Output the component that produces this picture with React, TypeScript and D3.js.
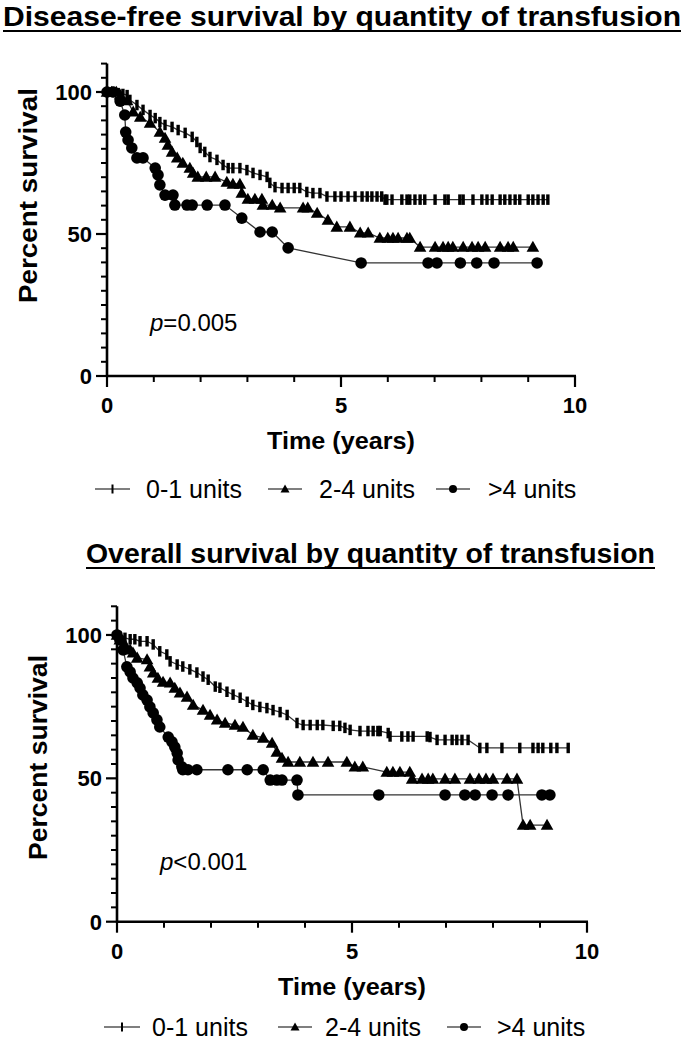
import React from "react";
import * as d3 from "d3";

// ---------- data ----------
const xTickValues = [0, 5, 10];
const yTickValues = [0, 50, 100];
const legendLabels = ["0-1 units", "2-4 units", ">4 units"];
const titles = ["Disease-free survival by quantity of transfusion", "Overall survival by quantity of transfusion"];
const pLabels = ["=0.005", "<0.001"];

// Disease-free survival [years, percent]
const dfs01: [number, number][] = [
  [0, 100], [0.13, 100], [0.24, 99.6], [0.34, 99.3], [0.43, 98.9], [0.49, 97.2], [0.64, 95.4], [0.77, 93.7],
  [0.92, 91.9], [1.03, 90.8], [1.13, 89.4], [1.24, 88.4], [1.39, 87.7], [1.52, 86.6], [1.67, 85.6], [1.82, 84.2],
  [1.92, 82.4], [1.99, 80.3], [2.09, 78.9], [2.2, 77.1], [2.35, 76.1], [2.48, 74.3], [2.59, 73.2], [2.69, 73.2],
  [2.84, 73.2], [2.99, 72.5], [3.12, 71.5], [3.27, 70.8], [3.42, 70.1], [3.48, 68], [3.59, 66.5], [3.74, 66.2],
  [3.87, 66.2], [4.0, 66.2], [4.12, 66.2], [4.27, 64.8], [4.4, 64.4], [4.55, 64.4], [4.7, 63.2], [4.87, 63.2],
  [5.0, 63.2], [5.15, 63.2], [5.3, 63.2], [5.45, 63.2], [5.56, 63.2], [5.66, 63.2], [5.77, 63.2], [5.87, 63.2],
  [5.94, 62.1], [5.98, 62.1], [6.09, 62.1], [6.3, 62.1], [6.41, 62.1], [6.47, 62.1], [6.58, 62.1], [6.69, 62.1],
  [6.79, 62.1], [7.01, 62.1], [7.22, 62.1], [7.29, 62.1], [7.54, 62.1], [7.61, 62.1], [7.82, 62.1], [8.01, 62.1],
  [8.12, 62.1], [8.23, 62.1], [8.4, 62.1], [8.5, 62.1], [8.61, 62.1], [8.72, 62.1], [8.82, 62.1], [9.0, 62.1],
  [9.1, 62.1], [9.21, 62.1], [9.32, 62.1], [9.42, 62.1],
];
const dfs24: [number, number][] = [
  [0, 100], [0.1, 100], [0.2, 100], [0.28, 99], [0.43, 97], [0.56, 93], [0.71, 91.2], [0.92, 89.1], [1.13, 85.9],
  [1.24, 83.8], [1.3, 81.3], [1.39, 78.9], [1.5, 76.8], [1.62, 75], [1.77, 73.2], [1.84, 71.5], [1.94, 70.1],
  [2.12, 70.1], [2.31, 70.1], [2.56, 68.3], [2.69, 67.6], [2.84, 67.6], [2.88, 64.4], [3.01, 62.3], [3.16, 62.3],
  [3.31, 62.3], [3.33, 60.2], [3.53, 60.2], [3.7, 59.2], [4.19, 59.2], [4.29, 59.2], [4.49, 57.4], [4.72, 54.9],
  [4.91, 52.5], [5.19, 52.5], [5.41, 50.4], [5.58, 50.4], [5.83, 48.6], [6.0, 48.6], [6.11, 48.6], [6.22, 48.6],
  [6.41, 48.6], [6.47, 48.6], [6.69, 45.4], [7.01, 45.4], [7.18, 45.4], [7.29, 45.4], [7.39, 45.4], [7.61, 45.4],
  [7.8, 45.4], [7.93, 45.4], [8.08, 45.4], [8.4, 45.4], [8.57, 45.4], [8.68, 45.4], [9.1, 45.4],
];
const dfs4: [number, number][] = [
  [0, 100], [0.13, 100], [0.28, 96.8], [0.38, 91.9], [0.4, 85.9], [0.45, 83.1], [0.53, 80.3], [0.64, 76.8],
  [0.77, 76.8], [1.03, 73.2], [1.09, 70.8], [1.13, 67.3], [1.24, 63.7], [1.41, 63.7], [1.45, 60.2], [1.71, 60.2],
  [1.82, 60.2], [2.14, 60.2], [2.52, 60.2], [2.88, 55.6], [3.27, 50.7], [3.53, 50.7], [3.87, 45.1], [5.43, 39.8],
  [6.86, 39.8], [7.05, 39.8], [7.55, 39.8], [7.9, 39.8], [8.27, 39.8], [9.19, 39.8],
];

// Overall survival [years, percent]
const os01: [number, number][] = [
  [0, 100], [0.06, 99.6], [0.17, 99], [0.28, 98.5], [0.38, 98.5], [0.49, 97.8], [0.64, 97.8], [0.77, 96.7],
  [0.91, 94.3], [1.06, 93.2], [1.13, 90.8], [1.28, 89.7], [1.4, 89.0], [1.55, 88.0], [1.7, 86.9], [1.83, 85.5],
  [1.94, 84.4], [2.09, 82.0], [2.19, 81.6], [2.34, 80.2], [2.47, 79.2], [2.62, 78.1], [2.77, 76.7], [2.89, 75.6],
  [3.04, 74.9], [3.19, 74.5], [3.32, 73.8], [3.47, 73.1], [3.62, 72.1], [3.83, 69.3], [3.96, 68.6], [4.11, 68.6],
  [4.26, 68.6], [4.38, 68.6], [4.6, 68.3], [4.74, 68.3], [4.85, 67.6], [4.96, 66.9], [5.17, 66.5], [5.34, 66.5],
  [5.45, 66.5], [5.55, 66.5], [5.6, 66.5], [5.77, 65.8], [5.81, 64.6], [6.06, 64.6], [6.19, 64.6], [6.3, 64.6],
  [6.6, 64.6], [6.66, 64.4], [6.81, 63.4], [6.98, 63.4], [7.13, 63.4], [7.23, 63.4], [7.34, 63.4], [7.47, 63.4],
  [7.72, 60.6], [7.87, 60.6], [8.19, 60.6], [8.57, 60.6], [8.85, 60.6], [8.96, 60.6], [9.06, 60.6], [9.23, 60.6],
  [9.36, 60.6], [9.6, 60.6],
];
const os24: [number, number][] = [
  [0, 100], [0.06, 98.3], [0.17, 96.6], [0.28, 94.8], [0.34, 93.8], [0.43, 92], [0.64, 91.4], [0.7, 88.9],
  [0.77, 86.8], [0.87, 85], [0.98, 83.6], [1.13, 83.3], [1.23, 81.5], [1.34, 79.8], [1.49, 78.4], [1.62, 75.6],
  [1.83, 73.8], [1.98, 72.1], [2.13, 70.4], [2.3, 69.3], [2.51, 68.6], [2.68, 67.9], [2.89, 65.1], [3.11, 64.1],
  [3.3, 62.3], [3.4, 59.2], [3.51, 57.1], [3.64, 55.7], [3.89, 55.7], [4.17, 55.7], [4.49, 55.7], [4.89, 55.7],
  [5.06, 54], [5.23, 54], [5.74, 52.2], [5.87, 52.2], [6.02, 52.2], [6.23, 52.2], [6.28, 49.8], [6.49, 49.8],
  [6.62, 49.8], [6.72, 49.8], [6.98, 49.8], [7.19, 49.8], [7.51, 49.8], [7.7, 49.8], [7.85, 49.8], [8.0, 49.8],
  [8.3, 49.8], [8.51, 49.8], [8.64, 33.7], [8.79, 33.7], [9.15, 33.7],
];
const os4: [number, number][] = [
  [0, 100], [0.06, 98.3], [0.13, 94.8], [0.21, 88.9], [0.28, 87.1], [0.34, 85], [0.43, 83.3], [0.49, 81.5],
  [0.55, 79.1], [0.64, 77.3], [0.7, 74.9], [0.77, 72.8], [0.85, 70.4], [0.91, 67.9], [1.09, 64.4], [1.17, 62.7],
  [1.23, 60.9], [1.28, 58.8], [1.3, 56.4], [1.38, 54], [1.4, 53], [1.51, 53], [1.7, 53], [2.36, 53], [2.77, 53],
  [3.11, 53], [3.26, 49.4], [3.4, 49.4], [3.51, 49.4], [3.83, 49.4], [3.85, 44.2], [5.57, 44.2], [6.98, 44.2],
  [7.4, 44.2], [7.62, 44.2], [7.98, 44.2], [8.32, 44.2], [9.04, 44.2], [9.21, 44.2],
];

type Pt = [number, number];

function Marker({ kind, x, y, small }: { kind: number; x: number; y: number; small?: boolean }) {
  if (kind === 0) {
    const w = small ? 2 : 3.4;
    const h = small ? 9 : 10.5;
    return <rect x={x - w / 2} y={y - h / 2} width={w} height={h} fill="#000" />;
  }
  if (kind === 1) {
    const s = small ? 4.5 : 6.3;
    return <path d={`M${x},${y - s}L${x + s},${y + s * 0.75}L${x - s},${y + s * 0.75}Z`} fill="#000" />;
  }
  return <circle cx={x} cy={y} r={small ? 4 : 5.8} fill="#000" />;
}

function Panel(props: {
  series: Pt[][];
  x0: number; x1: number; yBottom: number; yTop: number;
  title: string; titleX: number; titleW: number; titleY: number;
  yLabelX: number; yLabelY: number; yLabelLen: number;
  pText: string; pX: number; pY: number;
  legendY: number; legendLines: number[][]; legendText: number[];
}) {
  const { series, x0, x1, yBottom, yTop } = props;
  const x = d3.scaleLinear().domain([0, 10]).range([x0, x1]);
  const y = d3.scaleLinear().domain([0, 110]).range([yBottom, yTop]);
  const line = d3.line<Pt>().x((d) => x(d[0])).y((d) => y(d[1])).curve(d3.curveLinear);
  const minorX = d3.range(0, 11, 1).filter((v) => !xTickValues.includes(v));
  const minorY = d3.range(0, 111, 5).filter((v) => !yTickValues.includes(v));
  const font = "'Liberation Sans', Arial, sans-serif";
  return (
    <g fontFamily={font}>
      <text x={props.titleX} y={props.titleY} fontSize={28} fontWeight="bold" textLength={props.titleW} lengthAdjust="spacingAndGlyphs">{props.title}</text>
      <line x1={props.titleX} x2={props.titleX + props.titleW} y1={props.titleY + 5} y2={props.titleY + 5} stroke="#000" strokeWidth={2} />
      {/* y axis */}
      <line x1={x0} x2={x0} y1={yBottom + 1} y2={yTop} stroke="#000" strokeWidth={2.6} />
      {minorY.map((v) => (
        <line key={"my" + v} x1={x0 - 6} x2={x0} y1={y(v)} y2={y(v)} stroke="#000" strokeWidth={2} />
      ))}
      {yTickValues.map((v) => (
        <g key={"ty" + v}>
          <line x1={x0 - 11} x2={x0} y1={y(v)} y2={y(v)} stroke="#000" strokeWidth={2.2} />
          <text x={x0 - 15} y={y(v)} dy="0.36em" textAnchor="end" fontSize={22} fontWeight="bold">{v}</text>
        </g>
      ))}
      {/* x axis */}
      <line x1={x0 - 1} x2={x1 + 1} y1={yBottom} y2={yBottom} stroke="#000" strokeWidth={2.6} />
      {minorX.map((v) => (
        <line key={"mx" + v} x1={x(v)} x2={x(v)} y1={yBottom} y2={yBottom + 6} stroke="#000" strokeWidth={2} />
      ))}
      {xTickValues.map((v) => (
        <g key={"tx" + v}>
          <line x1={x(v)} x2={x(v)} y1={yBottom} y2={yBottom + 11} stroke="#000" strokeWidth={2.2} />
          <text x={x(v)} y={yBottom + 37} textAnchor="middle" fontSize={22} fontWeight="bold">{v}</text>
        </g>
      ))}
      <text x={(x0 + x1) / 2 - 74} y={yBottom + 73} fontSize={24} fontWeight="bold" textLength={148} lengthAdjust="spacingAndGlyphs">Time (years)</text>
      <text transform={`translate(${props.yLabelX},${props.yLabelY + props.yLabelLen}) rotate(-90)`} fontSize={26} fontWeight="bold" textLength={props.yLabelLen} lengthAdjust="spacingAndGlyphs">Percent survival</text>
      <text x={props.pX} y={props.pY} fontSize={24}>
        <tspan fontStyle="italic">p</tspan>{props.pText}
      </text>
      {/* curves */}
      {series.map((s, i) => (
        <g key={"s" + i}>
          <path d={line(s) || ""} fill="none" stroke="#333" strokeWidth={1.3} />
          {s.map((d, j) => (
            <Marker key={j} kind={i} x={x(d[0])} y={y(d[1])} />
          ))}
        </g>
      ))}
      {/* legend */}
      {legendLabels.map((lab, i) => (
        <g key={"l" + i}>
          <line x1={props.legendLines[i][0]} x2={props.legendLines[i][1]} y1={props.legendY} y2={props.legendY} stroke="#555" strokeWidth={1.6} />
          <Marker kind={i} x={(props.legendLines[i][0] + props.legendLines[i][1]) / 2} y={props.legendY} small />
          <text x={props.legendText[i]} y={props.legendY} dy="0.36em" fontSize={25}>{lab}</text>
        </g>
      ))}
    </g>
  );
}

export default function App() {
  return (
    <svg width={685} height={1042} style={{ position: "absolute", left: 0, top: 0, background: "#fff" }}>
      <rect width={685} height={1042} fill="#fff" />
      <Panel
        series={[dfs01, dfs24, dfs4]}
        x0={107} x1={575} yBottom={376} yTop={63.6}
        title={titles[0]} titleX={3} titleW={678} titleY={26}
        yLabelX={37} yLabelY={88} yLabelLen={215}
        pText={pLabels[0]} pX={150} pY={331}
        legendY={489} legendLines={[[95, 130], [268, 302], [436, 470]]} legendText={[146, 319, 488]}
      />
      <Panel
        series={[os01, os24, os4]}
        x0={117} x1={587} yBottom={921.7} yTop={606.3}
        title={titles[1]} titleX={86} titleW={569} titleY={563}
        yLabelX={47} yLabelY={655} yLabelLen={205}
        pText={pLabels[1]} pX={160} pY={870}
        legendY={1027} legendLines={[[104, 140], [278, 312], [447, 481]]} legendText={[152, 325, 497]}
      />
    </svg>
  );
}
